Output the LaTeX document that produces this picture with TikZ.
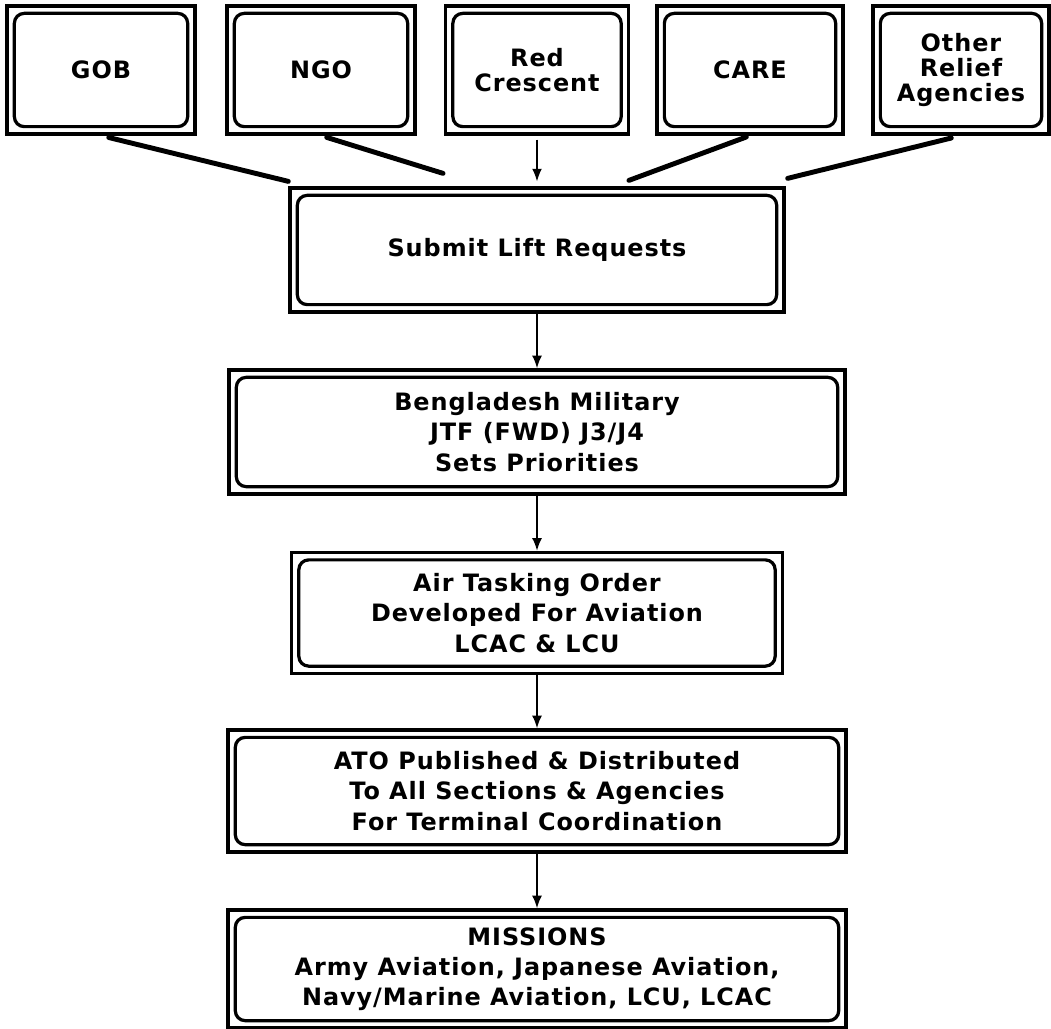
\documentclass[tikz,border=0pt]{standalone}
\usepackage{fontspec}
\setmainfont{DejaVu Sans}[LetterSpace=4]
\usetikzlibrary{arrows.meta}

\tikzset{
  box/.style={draw, line width=2.3pt, inner sep=0pt, align=center, font=\fontsize{17}{21.5}\selectfont\bfseries},
  topbox/.style={box, minimum height=3.2cm, font=\fontsize{17}{18}\selectfont\bfseries},
  feed/.style={line width=3.5pt, line cap=round},
  arr/.style={-{Latex[length=9pt,width=7pt]}, line width=1.3pt},
}

\begin{document}
\begin{tikzpicture}[x=0.025cm, y=-0.025cm]
        \useasboundingbox[fill=white] (0,0) rectangle (1051,1029); % margini come l'originale
        % enti che chiedono il trasporto
        \node[topbox, minimum width=4.7cm] (gob) at (101,70) {GOB};
        \node[topbox, minimum width=4.7cm] (ngo) at (321,70) {NGO};
        \node[topbox, minimum width=4.575cm] (redcr) at (537,70) {Red\\Crescent};
        \node[topbox, minimum width=4.65cm] (care) at (750,70) {CARE};
        \node[topbox, minimum width=4.4cm] (other) at (961,70) {Other\\Relief\\Agencies};
        % catena delle decisioni
        \node[box, minimum width=12.35cm, minimum height=3.1cm] (lift) at (537,250) {Submit Lift Requests};
        \node[box, minimum width=15.4cm, minimum height=3.1cm] (priority) at (537,432) {Bengladesh Military\\JTF (FWD) J3/J4\\Sets Priorities};
        \node[box, minimum width=12.275cm, minimum height=3.025cm] (tasking) at (537,613) {Air Tasking Order\\Developed For Aviation\\LCAC \& LCU};
        \node[box, minimum width=15.45cm, minimum height=3.05cm] (publish) at (537,791) {ATO Published \& Distributed\\To All Sections \& Agencies\\For Terminal Coordination};
        \node[box, minimum width=15.45cm, minimum height=2.95cm] (missions) at (537,969) {MISSIONS\\Army Aviation, Japanese Aviation,\\Navy/Marine Aviation, LCU, LCAC};
        \foreach \n in {gob,ngo,redcr,care,other,lift,priority,tasking,publish,missions}
            \draw[line width=2.3pt, rounded corners=7pt] ([shift={(9,9)}]\n.north west) rectangle ([shift={(-9,-9)}]\n.south east); % bordo interno
        % linee verso le richieste
        \draw[feed, shorten <=0.2cm] (gob.south) -- ([shift={(0,-5)}]lift.north west);
        \draw[feed, shorten <=0.15cm] (ngo.south) -- ([shift={(-94,-13)}]lift.north);
        \draw[arr, shorten <=0.1cm, shorten >=0.12cm] (redcr.south) -- (lift.north);
        \draw[feed, shorten <=0.1cm] (care.south) -- ([shift={(92,-6)}]lift.north);
        \draw[feed, shorten <=0.25cm] (other.south) -- ([shift={(2,-8)}]lift.north east);
        \foreach \a/\b in {lift/priority,priority/tasking,tasking/publish,publish/missions}
            \draw[arr] (\a) -- (\b); % frecce verticali
    \end{tikzpicture}
\end{document}
